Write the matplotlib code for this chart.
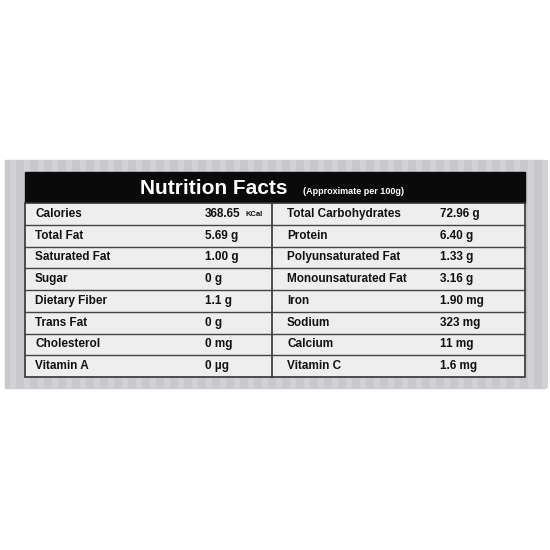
import matplotlib
matplotlib.use("Agg")
import matplotlib.pyplot as plt
from matplotlib.patches import Rectangle

plt.rcParams['font.family'] = ['Liberation Sans', 'DejaVu Sans']

left_labels = ["Calories", "Total Fat", "Saturated Fat", "Sugar", "Dietary Fiber", "Trans Fat", "Cholesterol", "Vitamin A"]
left_values = ["368.65", "5.69 g", "1.00 g", "0 g", "1.1 g", "0 g", "0 mg", "0 µg"]
right_labels = ["Total Carbohydrates", "Protein", "Polyunsaturated Fat", "Monounsaturated Fat", "Iron", "Sodium", "Calcium", "Vitamin C"]
right_values = ["72.96 g", "6.40 g", "1.33 g", "3.16 g", "1.90 mg", "323 mg", "11 mg", "1.6 mg"]

W = H = 550
fig = plt.figure(figsize=(5.5, 5.5), dpi=100)
ax = fig.add_axes([0, 0, 1, 1])
ax.set_xlim(0, W); ax.set_ylim(H, 0); ax.axis("off")
fig.patch.set_facecolor("white")

ax.add_patch(Rectangle((5, 160), 540, 228, color="#c9c9cd", zorder=0))
for x in range(10, 545, 14):
    ax.add_patch(Rectangle((x, 160), 6, 228, color="#d2d2d6", zorder=0.5, lw=0))
ax.add_patch(Rectangle((25, 172), 500, 31, color="#0a0a0a", zorder=1))
ax.text(140, 189, "Nutrition Facts", color="white", fontsize=15, fontweight="bold", va="center", zorder=2)
ax.text(303, 191, "(Approximate per 100g)", color="white", fontsize=6.5, fontweight="bold", va="center", zorder=2)

top, bottom = 203, 377
n = len(left_labels)
rh = (bottom - top) / n
ax.add_patch(Rectangle((25, top), 500, bottom - top, facecolor="#eeeeee", edgecolor="#333333", lw=1.2, zorder=1))
ax.plot([272, 272], [top, bottom], color="#333333", lw=1.2, zorder=2)
for i in range(1, n):
    ax.plot([25, 525], [top + i * rh] * 2, color="#444444", lw=1, zorder=2)
for i in range(n):
    y = top + (i + 0.5) * rh
    kw = dict(fontsize=8.5, va="center", color="#111111", zorder=3, fontweight="bold")
    ax.text(35, y, left_labels[i], **kw)
    ax.text(205, y, left_values[i], **kw)
    if i == 0:
        ax.text(245, y + 1, "KCal", fontsize=5.5, va="center", color="#111111", zorder=3, fontweight="bold")
    ax.text(287, y, right_labels[i], **kw)
    ax.text(440, y, right_values[i], **kw)

fig.savefig("out.png", dpi=100)
